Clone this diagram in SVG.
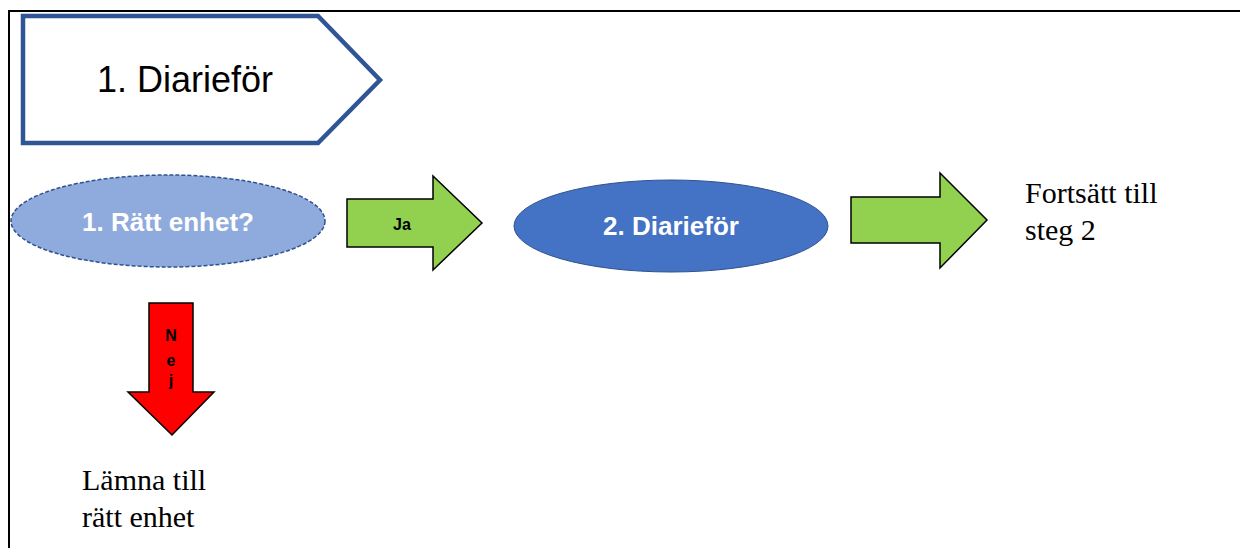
<svg xmlns="http://www.w3.org/2000/svg" width="1240" height="548" viewBox="0 0 1240 548">
<style>
.sans{font-family:"Liberation Sans",Arial,sans-serif}
.serif{font-family:"Liberation Serif","Times New Roman",serif;font-size:30px;fill:#000}
.lbl{font-family:"Liberation Sans",Arial,sans-serif;font-weight:bold;font-size:16px;fill:#000;text-anchor:middle}
.white{font-family:"Liberation Sans",Arial,sans-serif;font-weight:bold;font-size:26px;fill:#fff;text-anchor:middle}
.green{fill:#92D050;stroke:#000;stroke-width:1.5;stroke-linejoin:miter}
</style>
<rect x="0" y="0" width="1240" height="548" fill="#fff"/>
<g id="frame">
<path d="M9,548 V11 H1240" fill="none" stroke="#000" stroke-width="2"/>
</g>
<g id="header">
<path d="M23,16 H318 L380,80 L318,143 H23 Z" fill="#fff" stroke="#2F5597" stroke-width="4.5"/>
<text class="sans" x="185" y="92" font-size="36" text-anchor="middle" fill="#000">1. Diarieför</text>
</g>
<g id="node1">
<ellipse cx="168" cy="221" rx="157" ry="46" fill="#8FAADC" stroke="#2F528F" stroke-width="1.5" stroke-dasharray="4,2"/>
<text class="white" x="168" y="231">1. Rätt enhet?</text>
</g>
<g id="node2">
<ellipse cx="671" cy="226" rx="157" ry="46" fill="#4472C4" stroke="#2F528F" stroke-width="1"/>
<text class="white" x="671" y="235">2. Diarieför</text>
</g>
<g id="out1">
<text class="serif" x="1025" y="203">Fortsätt till</text>
<text class="serif" x="1025" y="240">steg 2</text>
</g>
<g id="out2">
<text class="serif" x="82" y="490">Lämna till</text>
<text class="serif" x="82" y="527">rätt enhet</text>
</g>
<g id="connectors">
<g id="arrow-ja">
<path class="green" d="M347,199 H433 V176 L482,223 L433,270 V247 H347 Z"/>
<text class="lbl" x="402" y="230">Ja</text>
</g>
<g id="arrow-next">
<path class="green" d="M851,197 H940 V173 L987,220 L940,268 V243 H851 Z"/>
</g>
<g id="arrow-nej">
<path d="M149,303 H193 V392 H214 L172,435 L128,392 H149 Z" fill="#FF0000" stroke="#000" stroke-width="1.5"/>
<text class="lbl" x="171" y="341">N</text>
<text class="lbl" x="171" y="366">e</text>
<text class="lbl" x="171" y="386">j</text>
</g>
</g>
</svg>
